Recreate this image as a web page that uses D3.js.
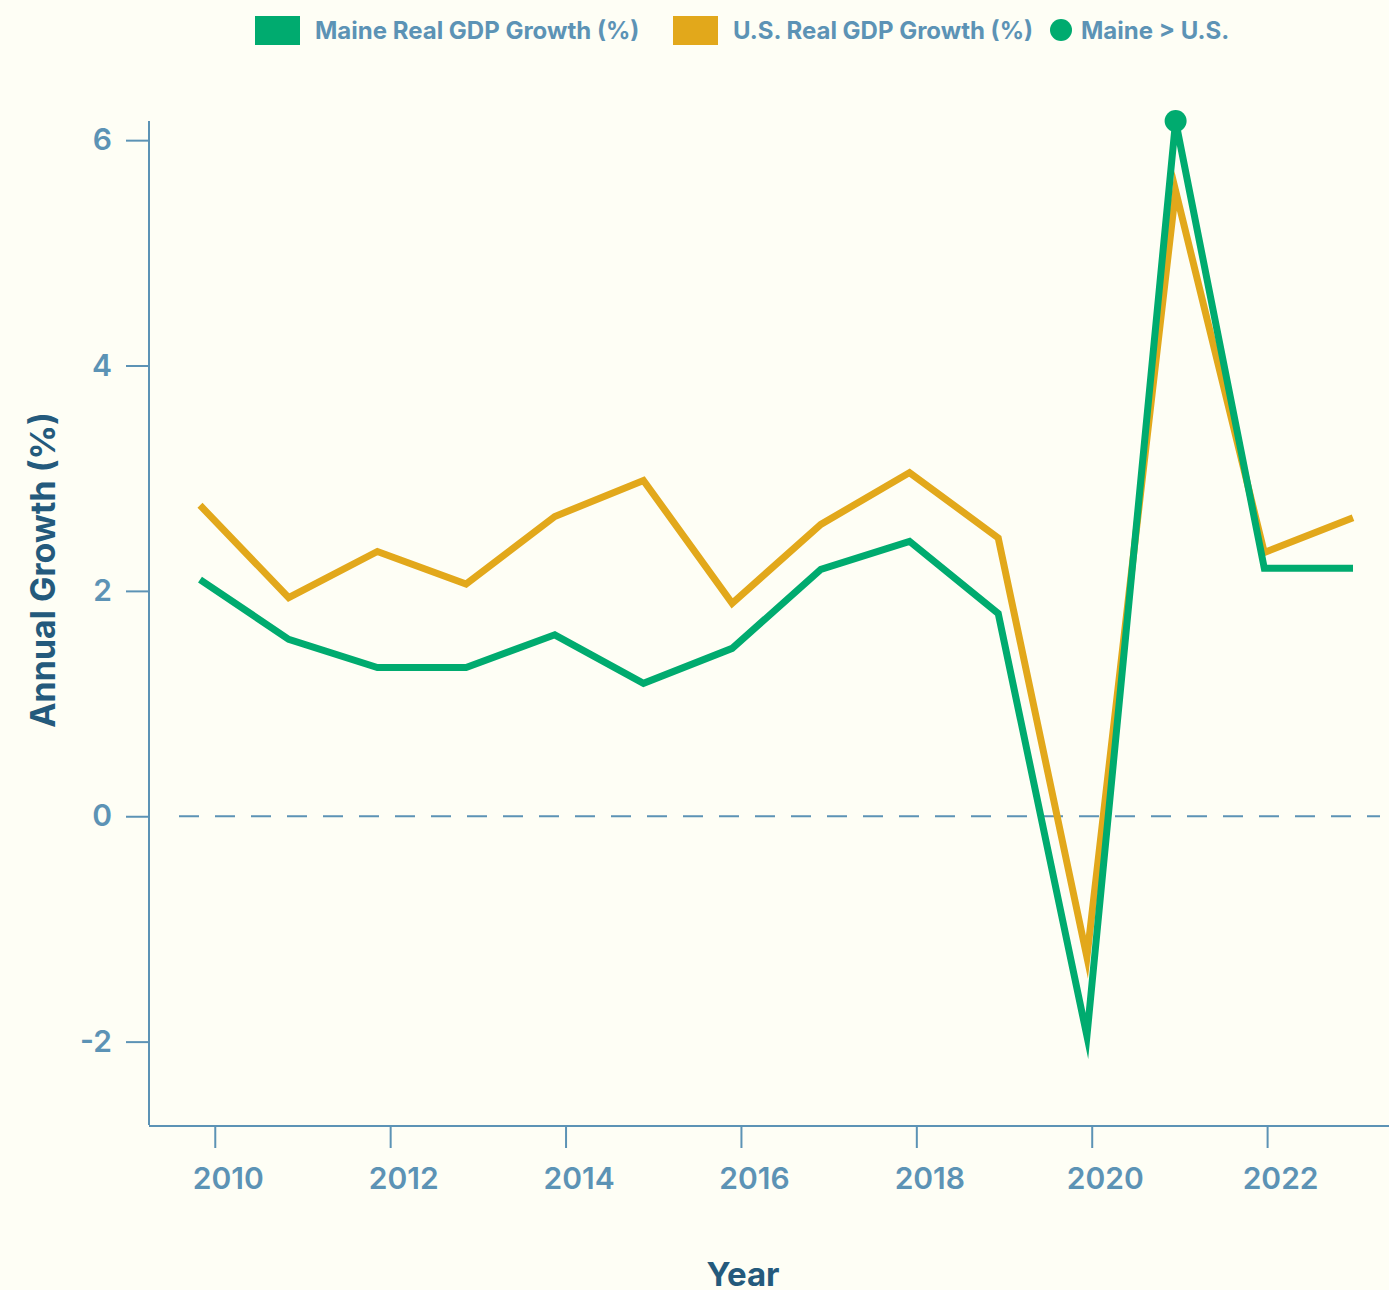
<!DOCTYPE html>
<html>
<head>
<meta charset="utf-8">
<script src="https://cdn.jsdelivr.net/npm/d3@7"></script>
<style>
  html, body { margin: 0; padding: 0; background: #fefef5; }
  svg { display: block; font-family: Inter, "Noto Sans", sans-serif; }
</style>
</head>
<body>
<svg id="chart" width="1389" height="1290"></svg>
<script>
// data
var years = [2010, 2011, 2012, 2013, 2014, 2015, 2016, 2017, 2018, 2019, 2020, 2021, 2022, 2023];
var maineGrowth = [2.10, 1.57, 1.32, 1.32, 1.61, 1.18, 1.49, 2.19, 2.44, 1.80, -1.95, 6.17, 2.20, 2.20];
var usGrowth = [2.76, 1.94, 2.35, 2.06, 2.66, 2.98, 1.89, 2.59, 3.05, 2.47, -1.25, 5.55, 2.34, 2.65];
var yTicks = [-2, 0, 2, 4, 6];
var xTicks = [2010, 2012, 2014, 2016, 2018, 2020, 2022];
var legendLabels = ["Maine Real GDP Growth (%)", "U.S. Real GDP Growth (%)", "Maine > U.S."];

var green = "#00ab6f",
    orange = "#e2a81b",
    axisColor = "#5c93b5",
    titleColor = "#245a7c";

var svg = d3.select("#chart");

var plotLeft = 149, plotRight = 1389, plotTop = 121, plotBottom = 1125;

var maine = years.map(function(yr, i) { return { year: yr, value: maineGrowth[i] }; });
var us = years.map(function(yr, i) { return { year: yr, value: usGrowth[i] }; });

// the axis ticks and the line points sit on slightly different spacings in the original
var xAxisScale = d3.scaleLinear()
    .domain([2009.25, 2023.39])
    .range([plotLeft, plotRight]);

var x = d3.scalePoint()
    .domain(years)
    .range([200, 1353]);

var allValues = maineGrowth.concat(usGrowth);
var y = d3.scaleLinear()
    .domain([d3.min(allValues) - 0.79, d3.max(allValues)])
    .range([plotBottom, plotTop]);

var plainNumber = function(d) { return String(d); };

// y axis
var yAxis = svg.append("g")
    .attr("transform", "translate(" + plotLeft + ",0)")
    .call(d3.axisLeft(y).tickValues(yTicks).tickSize(23).tickPadding(14).tickFormat(plainNumber));

// x axis
var xAxis = svg.append("g")
    .attr("transform", "translate(0," + (plotBottom + 1) + ")")
    .call(d3.axisBottom(xAxisScale).tickValues(xTicks).tickSize(22).tickPadding(20).tickFormat(plainNumber));

[yAxis, xAxis].forEach(function(ax) {
    ax.select(".domain").attr("stroke", axisColor).attr("stroke-width", 2);
    ax.selectAll(".tick line").attr("stroke", axisColor).attr("stroke-width", 2);
    ax.selectAll(".tick text")
        .attr("fill", axisColor)
        .style("font-size", "30px")
        .style("font-weight", 600)
        .style("font-family", "Inter, sans-serif");
});
// square ends on the axis lines
yAxis.select(".domain").attr("d", "M0," + plotTop + "V" + plotBottom);
xAxis.select(".domain").attr("d", "M" + plotLeft + ",0H" + plotRight);
xAxis.selectAll(".tick text").attr("dx", 13);

// zero line
svg.append("line")
    .attr("x1", 179)
    .attr("x2", 1380)
    .attr("y1", y(0))
    .attr("y2", y(0))
    .attr("stroke", axisColor)
    .attr("stroke-width", 2)
    .attr("stroke-dasharray", "20,16");

var line = d3.line()
    .x(function(d) { return x(d.year); })
    .y(function(d) { return y(d.value); });

// miter limit chosen so the sharpest peak (2021) bevels under the dot
svg.append("path")
    .datum(us)
    .attr("d", line)
    .attr("fill", "none")
    .attr("stroke", orange)
    .attr("stroke-width", 7)
    .attr("stroke-linejoin", "miter")
    .attr("stroke-miterlimit", 6.75);

svg.append("path")
    .datum(maine)
    .attr("d", line)
    .attr("fill", "none")
    .attr("stroke", green)
    .attr("stroke-width", 7)
    .attr("stroke-linejoin", "miter")
    .attr("stroke-miterlimit", 6.75);

// dots where Maine beats the U.S.
svg.selectAll("circle.above")
    .data(maine.filter(function(d, i) { return d.value > usGrowth[i]; }))
    .enter()
    .append("circle")
    .attr("class", "above")
    .attr("cx", function(d) { return x(d.year); })
    .attr("cy", function(d) { return y(d.value); })
    .attr("r", 11)
    .attr("fill", green);

// axis titles
svg.append("text")
    .attr("transform", "translate(55,570) rotate(-90)")
    .attr("text-anchor", "middle")
    .attr("fill", titleColor)
    .style("font-size", "34px")
    .style("font-weight", 700)
    .text("Annual Growth (%)");

svg.append("text")
    .attr("x", 743)
    .attr("y", 1286)
    .attr("text-anchor", "middle")
    .attr("fill", titleColor)
    .style("font-size", "33px")
    .style("font-weight", 700)
    .text("Year");

// legend
var legend = svg.append("g").attr("class", "legend");
var items = [
    { label: legendLabels[0], color: green, shape: "rect", x: 255 },
    { label: legendLabels[1], color: orange, shape: "rect", x: 673 },
    { label: legendLabels[2], color: green, shape: "circle", x: 1050 }
];
items.forEach(function(it) {
    var tx;
    if (it.shape === "rect") {
        legend.append("rect")
            .attr("x", it.x).attr("y", 16)
            .attr("width", 45).attr("height", 29)
            .attr("fill", it.color);
        tx = it.x + 60;
    } else {
        legend.append("circle")
            .attr("cx", it.x + 11).attr("cy", 30)
            .attr("r", 11)
            .attr("fill", it.color);
        tx = it.x + 31;
    }
    legend.append("text")
        .attr("x", tx)
        .attr("y", 39)
        .attr("fill", axisColor)
        .style("font-size", "24px")
        .style("font-weight", 700)
        .text(it.label);
});
</script>
</body>
</html>
